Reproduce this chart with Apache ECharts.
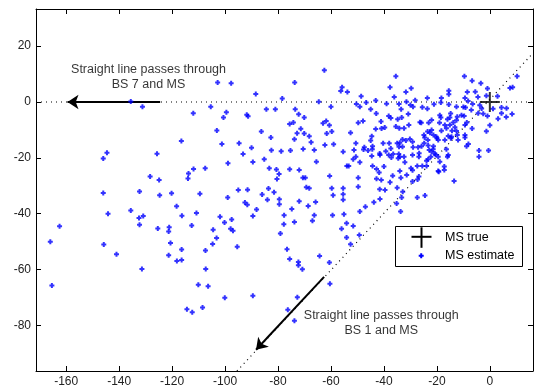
<!DOCTYPE html>
<html>
<head>
<meta charset="utf-8">
<title>MS position estimates</title>
<script src="https://cdn.jsdelivr.net/npm/echarts@6.0.0/dist/echarts.min.js"></script>
<style>
  html, body { margin: 0; padding: 0; background: #fff; }
  #chart { width: 535px; height: 388px; }
</style>
</head>
<body>
<div id="chart"></div>
<script>
// axis ranges and tick labels
var xRange = [-171.4, 16.3];
var yRange = [-96.3, 33.3];
var xTicks = [-160, -140, -120, -100, -80, -60, -40, -20, 0];
var yTicks = [-80, -60, -40, -20, 0, 20];

// true mobile station position
var msTrue = [[0, 0]];

// straight line through BS 7 and MS (horizontal), and through BS 1 and MS
var lineBS7 = [[-171.4, 0], [16.3, 0]];
var lineBS1 = [[-95.5, -96.3], [16.3, 17.5]];

// annotation arrows: [from, to]
var arrowBS7 = [[-124.5, 0], [-159.5, 0]];
var arrowBS1 = [[-62.6, -62.6], [-88.3, -88.7]];

// annotation texts and where they sit (data units)
var noteBS7 = { pos: [-128.9, 9.0], text: 'Straight line passes through\nBS 7 and MS' };
var noteBS1 = { pos: [-41, -79.1], text: 'Straight line passes through\nBS 1 and MS' };

// estimated MS positions
var msEstimate = [
  [-166,-50],[-165.4,-65.7],[-162.5,-44.5],[-146,-32.6],[-145.8,-51],[-144.2,-40],[-141,-54.5],[-135.6,-38.8],
  [-132.5,-41.5],[-132.3,-43.9],[-130.9,-40.8],[-132.3,-32],[-131.4,-59.8],[-125.4,-45.3],[-124.7,-33.4],
  [-121.1,-44.8],[-121.3,-46.4],[-120.6,-50.5],[-121.3,-54.9],[-120.2,-32.7],[-118.3,-37.3],[-118.2,-56.9],
  [-116.4,-56.6],[-116.4,-52.8],[-116.3,-40.7],[-114.4,-74.2],[-112.4,-75.3],[-112.6,-44.2],[-110.8,-39.7],
  [-110.1,-65.4],[-109.5,-32.8],[-108.5,-73.6],[-107.3,-59.8],[-107.4,-53.2],[-106.4,-66],[-104.7,-50.8],
  [-104.5,-45.7],[-103.2,-48.7],[-101.9,-41.1],[-100.2,-43.1],[-100.1,-70.1],[-99,-34.2],[-97.5,-42.1],
  [-97.9,-45.4],[-97,-46.1],[-95.4,-51.8],[-95,-31.5],[-91.5,-31.4],[-92.5,-36],[-91.6,-36.8],[-89.5,-40.8],
  [-88.1,-38.5],[-89.5,-69.4],[-86,-33.1],[-84,-35],
  [-146,-20.2],[-144.6,-18.2],[-135.6,0.2],[-131.2,-1.7],[-125.7,-18.5],[-128.3,-26.7],[-124.9,-27.9],
  [-116.5,-14],[-113.8,-25.6],[-114,-27.4],[-111.9,-24],[-112,-4],[-107.5,-23.7],[-105.4,-1.7],[-103.1,-10.2],
  [-102.8,7],[-101.2,-15],[-100.6,-5.5],[-99.5,-3.7],[-98.9,-21.9],[-97.7,6.7],[-94.7,-14.8],[-93.2,-18.6],
  [-91.8,-4.6],[-91.3,-5.1],[-90,-16.4],[-89.5,-21.5],[-88.4,2.9],[-86.3,-10.6],[-85.2,-20.5],[-83.3,-23.7],
  [-84.4,-2.6],[-83.6,-31],
  [-82.7,-12.7],[-82.5,-17.3],[-81.5,-32.3],[-80.4,-27.6],[-79.6,-25.8],[-80.6,-24.2],[-79.5,-34.8],
  [-79.5,-36.6],[-78.8,-17.6],[-78.4,1.3],[-77.7,-40.5],[-77.8,-43.8],[-79.1,-47.1],[-76.6,-52.7],
  [-75.6,-56.2],[-75.6,-7.9],[-74.2,-7.3],[-75.6,-24.1],[-75.3,-17.4],[-74.8,-38.3],[-73.8,-43],[-73.7,7],
  [-73.5,-2.6],[-73.8,-13.3],[-72.8,-11.2],[-72.2,-4.4],[-72,-24.3],[-72,-35.5],[-72.3,-57.3],[-72.3,-58.4],
  [-72.7,-69.9],[-70.8,-59.9],[-71.4,-9.6],[-70.1,-5.5],[-70.1,-11.3],[-70.5,-16.8],[-70.6,-27.1],
  [-69.7,-27.1],[-69.3,-30.5],[-68.2,-30.9],[-68.2,-12.3],[-68.6,-37.2],[-67.5,-14.4],[-67,-42.5],
  [-66.3,-40.5],[-66.3,-17.2],[-65.8,-35.8],[-65.5,-21.4],[-64.6,0.1],[-64.3,-55.1],[-63,-7.6],[-61.8,-6.8],
  [-62.5,11.4],[-62.3,-15.4],[-61.6,-11.3],[-60.6,-8.3],[-59.7,-10.6],[-60,-1.7],[-59,-15.1],[-60.5,-26.5],
  [-59.7,-30.9],[-59.2,-33.4],[-59.4,-40.5],[-60.6,-57.5],[-60.4,-65.1],[-76.3,-74.4],[-73.8,-78.3],[-81,-2.6],
  [-55.8,5.3],[-56.3,3.9],[-53.8,3.6],[-48.6,2.1],[-50.4,-0.7],[-49.1,-1.7],[-46.7,-0.2],[-43.1,0.5],
  [-45,-2.6],[-42.9,-4.1],[-39,-0.6],[-37.7,5.3],[-35.5,9.2],[-36.1,1.8],[-34.3,-0.7],[-31.7,3.6],
  [-29.7,4.9],[-31.5,0.1],[-30,-1.1],[-29,-1.7],[-28.2,0.6],[-25.5,-1.9],[-23.6,-2.4],[-23.6,1.4],
  [-49.7,-7.4],[-47.9,-6.8],[-41.1,-7],[-38.2,-5],[-37.4,-5.7],[-34.8,-6.2],[-33.5,-2.6],[-33.3,-5.5],
  [-30.8,-4.3],[-26.4,-7.2],[-25.9,-7.4],[-23.1,-7.4],[-52.6,-11],[-43.1,-9.7],[-40.9,-9.5],[-39.7,-9.1],
  [-35.5,-8.8],[-34.2,-9.4],[-32.4,-9.4],[-30.6,-8.2],[-23.5,-10.6],[-44.6,-12.3],[-45,-13.8],[-44.3,-15.8],
  [-50.6,-14.8],[-47.4,-16.2],[-44.4,-16.9],[-40.3,-14.8],[-38,-14.8],[-35,-14.8],[-34,-14.6],[-34.3,-16],
  [-37.4,-16.6],[-33,-13.4],[-31.7,-13.8],[-30.2,-13.2],[-29.2,-14.2],[-29,-16.2],[-27.1,-16.2],
  [-25.8,-15.8],[-24.6,-12.7],[-24.9,-11.8],[-24.8,-14.8],[-55.4,-17.8],[-51.3,-17.2],[-50.6,-19.6],
  [-47.7,-17],[-46,-17.4],[-41.6,-18.4],[-41.5,-19],[-39.3,-17.6],[-38.2,-19],[-37.2,-19.9],[-36.5,-18.6],
  [-34.4,-18.6],[-34,-19.6],[-32.4,-19.6],[-33,-16],[-29.2,-19],[-26.7,-18.3],[-26.8,-19.6],[-51.6,-20.5],
  [-49.1,-21.6],[-44.6,-19.3],[-34.6,-20.1],[-32.1,-21.6],[-54,-22.9],[-53.3,-22.9],[-44.3,-22.9],
  [-42.8,-24],[-41.8,-25.2],[-40,-23.1],[-36.7,-26.4],[-34,-24.7],[-33.6,-27.1],[-31.4,-26.1],[-29.8,-23.7],
  [-29.2,-24.4],[-27.4,-22.9],[-25.5,-22.9],[-49.7,-27.1],[-42.8,-27.5],[-41,-27.9],[-37.7,-28.7],
  [-35,-30.7],[-29.2,-28.5],[-27.3,-27.7],[-26.8,-26.7],[-49.7,-30.3],[-55.4,-30.9],[-55.4,-33],
  [-55.4,-35],[-39.6,-31.5],[-41.6,-31.2],[-32.9,-32.1],[-33.3,-34.2],[-27.4,-34.2],[-24.5,-33.5],
  [-43.8,-35.9],[-47,-37.5],[-41.5,-34.7],[-35.2,-36.3],[-33.7,-39.2],[-49.1,-39.2],[-55.1,-40.2],
  [-54.1,-43.4],[-51.6,-44.4],[-56,-45.4],[-54.1,-48.5],[-49.3,-47.6],[-52.6,-50.9],
  [-15.5,4],[-15.5,2.8],[-9.6,9.2],[-6.7,7.6],[-3.4,6.7],[-8.5,3.6],[-5.5,3.7],[-0.9,4.8],[7.6,5],
  [8.6,5.3],[10.3,9.2],[-18.3,1.4],[-9.4,1.4],[-8.2,0.4],[-4.5,1.8],[-1.3,2.2],[2.9,2.1],[-21.1,-0.8],
  [-18.5,-0.2],[-15.5,-0.9],[-12.6,-1.7],[-10,-1.8],[-9.2,-2],[-7,-2.9],[-6.5,-0.7],[-3.8,-1.2],[-3.1,-2.3],
  [-4.4,-4],[-2.5,-4.2],[-0.9,-5],[1.2,-2.4],[4.4,-2],[6.3,-2.2],[4.4,-4],[6.2,-5.4],[3.1,-6],[8.4,-4.3],
  [0,-8.3],[-1.3,-10.5],[-4.1,-17.4],[-4.1,-19.6],[-0.5,-17.4],[-6.7,-9.5],[-9.4,-8.2],[-8.7,-7.3],
  [-12.6,-6.5],[-14.8,-4.1],[-15.1,-5.5],[-18.9,-4.7],[-19,-7.4],[-17,-8.2],[-15.1,-8.2],[-13.8,-7.3],
  [-13.2,-9],[-14.3,-10.3],[-12.6,-10.4],[-9.4,-11.8],[-12,-13.6],[-15.7,-12.2],[-14.7,-13],[-17,-13.6],
  [-22,-6.4],[-10.7,-4.7],[-9.7,-5],[-12.3,-5.3],[-16,-6.2],[-18.5,-5.5],[-22.6,-11],[-22,-10],
  [-21.3,-11.8],[-20,-13],[-23.4,-13.6],[-19.5,-13.6],[-20.2,-12.4],[-21.3,-15.8],[-22.9,-17.2],
  [-22,-17.8],[-21.4,-16.9],[-23.3,-15.6],[-22.3,-19.6],[-23.3,-20.5],[-23.9,-21],[-20.5,-18.9],
  [-18.9,-21.4],[-16.4,-16.9],[-16,-19.6],[-15.7,-19],[-23.9,-22.9],[-19.5,-24.7],[-17.2,-23.1],
  [-17.2,-24.3],[-13.5,-28.3],[-19.3,-25],[-9.4,-12.7],[-8.8,-15.8],[-8.1,-15],[-14.5,-12.4],[-18.3,-10.3],
  [-16.4,-9.4],[-12.3,-11.8],[-20.8,-18.4],[-19.5,-19.6]
];

var FONT = '"Liberation Sans", Arial, Helvetica, sans-serif';
// chunky plus, close to a small filled blob
var plusMark = 'path://M1.5,0H3.5V1.5H5V3.5H3.5V5H1.5V3.5H0V1.5H1.5Z';
var bigPlus = 'path://M0,9H20V11H0Z M9,0H11V20H9Z';

var chart = echarts.init(document.getElementById('chart'), null, { renderer: 'canvas' });

function boxAxis(pos, range, ticks, showLabels) {
  return {
    type: 'value',
    position: pos,
    min: range[0],
    max: range[1],
    axisLine: { show: true, onZero: false, lineStyle: { color: '#000', width: 1 } },
    axisTick: { show: true, inside: true, length: 5, customValues: ticks, lineStyle: { color: '#000' } },
    axisLabel: {
      show: showLabels, customValues: ticks, margin: 5,
      fontSize: 12, color: '#222', fontFamily: FONT
    },
    splitLine: { show: false }
  };
}

var option = {
  animation: false,
  backgroundColor: '#fff',
  grid: { left: 36, right: 2, top: 9, bottom: 17, containLabel: false },
  xAxis: [
    boxAxis('bottom', xRange, xTicks, true),
    boxAxis('top', xRange, xTicks, false)
  ],
  yAxis: [
    boxAxis('left', yRange, yTicks, true),
    boxAxis('right', yRange, yTicks, false)
  ],
  series: [
    {
      name: 'line BS7', type: 'line', data: lineBS7, symbol: 'none', silent: true, z: 1,
      lineStyle: { color: '#000', width: 1.2, type: [1, 4] }
    },
    {
      name: 'line BS1', type: 'line', data: lineBS1, symbol: 'none', silent: true, z: 1,
      lineStyle: { color: '#000', width: 1.2, type: [1, 4] }
    },
    {
      name: 'arrows', type: 'lines', coordinateSystem: 'cartesian2d', silent: true, z: 3,
      symbol: ['none', 'arrow'], symbolSize: 11,
      lineStyle: { color: '#000', width: 2, opacity: 1 },
      data: [{ coords: arrowBS7 }, { coords: arrowBS1 }]
    },
    {
      name: 'MS estimate', type: 'scatter', data: msEstimate, z: 4,
      symbol: plusMark, symbolSize: 5,
      itemStyle: { color: '#0000ff' }
    },
    {
      name: 'MS true', type: 'scatter', data: msTrue, z: 5,
      symbol: bigPlus, symbolSize: 20,
      itemStyle: { color: '#000' }
    },
    {
      name: 'notes', type: 'scatter', silent: true, z: 6,
      symbolSize: 1, itemStyle: { color: 'transparent' },
      data: [noteBS7, noteBS1].map(function (n) { return { value: n.pos, note: n.text }; }),
      label: {
        show: true, position: 'inside', align: 'center', verticalAlign: 'middle',
        fontSize: 12.5, lineHeight: 15.5, color: '#000', fontFamily: FONT,
        formatter: function (p) { return p.data.note; }
      }
    }
  ],
  graphic: [
    {
      type: 'group', z: 100,
      children: [
        { type: 'rect', shape: { x: 395.5, y: 226.5, width: 127, height: 40 },
          style: { fill: '#fff', stroke: '#000', lineWidth: 1 } },
        { type: 'rect', shape: { x: 411.5, y: 235.8, width: 20, height: 2 }, style: { fill: '#000' } },
        { type: 'rect', shape: { x: 420.5, y: 227.3, width: 2, height: 20.5 }, style: { fill: '#000' } },
        { type: 'polygon',
          shape: { points: [[420.2,253.2],[422.2,253.2],[422.2,254.7],[423.7,254.7],[423.7,256.7],[422.2,256.7],
                            [422.2,258.2],[420.2,258.2],[420.2,256.7],[418.7,256.7],[418.7,254.7],[420.2,254.7]] },
          style: { fill: '#0000ff' } },
        { type: 'text', x: 445, y: 237.5,
          style: { text: 'MS true', fontSize: 12.5, fontFamily: FONT, fill: '#000', verticalAlign: 'middle' } },
        { type: 'text', x: 445, y: 256,
          style: { text: 'MS estimate', fontSize: 12.5, fontFamily: FONT, fill: '#000', verticalAlign: 'middle' } }
      ]
    }
  ]
};

chart.setOption(option);
</script>
</body>
</html>
